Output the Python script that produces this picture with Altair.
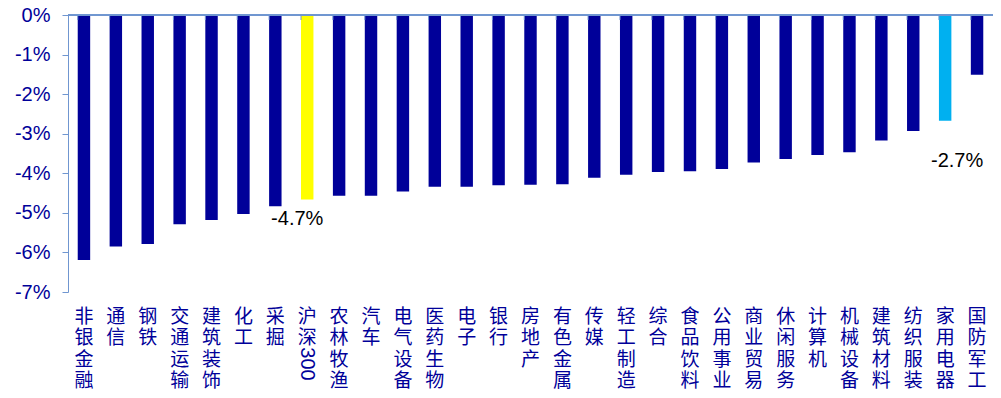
import altair as alt
import pandas as pd

categories = ["非银金融", "通信", "钢铁", "交通运输", "建筑装饰", "化工", "采掘", "沪深300",
              "农林牧渔", "汽车", "电气设备", "医药生物", "电子", "银行", "房地产", "有色金属",
              "传媒", "轻工制造", "综合", "食品饮料", "公用事业", "商业贸易", "休闲服务",
              "计算机", "机械设备", "建筑材料", "纺织服装", "家用电器", "国防军工"]
values = [-6.19, -5.85, -5.79, -5.29, -5.18, -5.03, -4.83, -4.66,
          -4.57, -4.57, -4.46, -4.34, -4.34, -4.30, -4.29, -4.28,
          -4.11, -4.04, -3.97, -3.95, -3.89, -3.73, -3.64,
          -3.54, -3.47, -3.17, -2.93, -2.67, -1.51]
benchmark = "沪深300"
highlight = "家用电器"
y_ticks = [0, -1, -2, -3, -4, -5, -6, -7]

df = pd.DataFrame({"cat": categories, "v": values})

NAVY = "#000099"
AXIS = "#7096d0"
CJK = "Noto Sans CJK SC"
LAT = "Liberation Sans"

x_axis = alt.Axis(title=None, orient="bottom", domain=False, ticks=False,
                  labelAngle=0, labelBaseline="top", labelAlign="center",
                  labelPadding=15, labelFont=CJK, labelFontSize=19,
                  labelLineHeight=21.5, labelColor=NAVY, labelOverlap=False,
                  labelExpr="split(replace(datum.label, regexp('[0-9]+', 'g'), ''), '')")
y_axis = alt.Axis(title=None, values=y_ticks,
                  labelExpr="datum.value + '%'", grid=False,
                  labelOverlap=False,
                  domainColor=AXIS, tickColor=AXIS, tickSize=6,
                  labelPadding=12, labelFont=LAT, labelFontSize=20,
                  labelColor=NAVY)
xscale = alt.Scale(paddingInner=0.61, paddingOuter=0.305)
yscale = alt.Scale(domain=[-7, 0], nice=False)

xenc = alt.X("cat:N", sort=None, scale=xscale, axis=x_axis)
yenc = alt.Y("v:Q", scale=yscale, axis=y_axis)

color = (alt.when(alt.datum.cat == benchmark).then(alt.value("#FFFF00"))
         .when(alt.datum.cat == highlight).then(alt.value("#00B0F0"))
         .otherwise(alt.value(NAVY)))

bars = alt.Chart(df).mark_bar().encode(x=xenc, y=yenc, color=color)

ticks = alt.Chart(df).mark_rule(color=AXIS, strokeWidth=1).encode(
    x=alt.X("cat:N", sort=None, scale=xscale, axis=x_axis, bandPosition=0),
    y=alt.value(0), y2=alt.value(5))

zero = alt.Chart(df).mark_rule(color=AXIS, strokeWidth=1).encode(
    x=alt.value(0), x2=alt.value(925), y=alt.value(0))

# digits of labels such as 沪深300, drawn rotated as in vertical text
digits = alt.Chart(df).transform_filter(
    "test(regexp('[0-9]'), datum.cat)"
).transform_calculate(
    d="replace(datum.cat, regexp('[^0-9]', 'g'), '')"
).mark_text(font=LAT, fontSize=20, color=NAVY, angle=90, align="center",
            baseline="middle").encode(
    x=xenc, y=alt.value(349), text="d:N")

lbl_base = alt.Chart(df).transform_calculate(
    label="replace(format(datum.v, '.1f'), '\u2212', '-') + '%'")
lbl1 = lbl_base.transform_filter(alt.datum.cat == benchmark).mark_text(
    font=LAT, fontSize=20, color="black", baseline="top", dx=-10, dy=10
).encode(x=xenc, y=yenc, text="label:N")
lbl2 = lbl_base.transform_filter(alt.datum.cat == highlight).mark_text(
    font=LAT, fontSize=20, color="black", baseline="top", dx=12, dy=30
).encode(x=xenc, y=yenc, text="label:N")

chart = alt.layer(bars, zero, ticks, digits, lbl1, lbl2).properties(
    width=925, height=277,
    background="white",
    autosize=alt.AutoSizeParams(type="none"),
    padding={"left": 68, "top": 15, "right": 8, "bottom": 106},
).configure_view(stroke=None).configure_axis(labelOverlap=False)

chart.save("out.html", embed_options={"renderer": "svg", "actions": False})
